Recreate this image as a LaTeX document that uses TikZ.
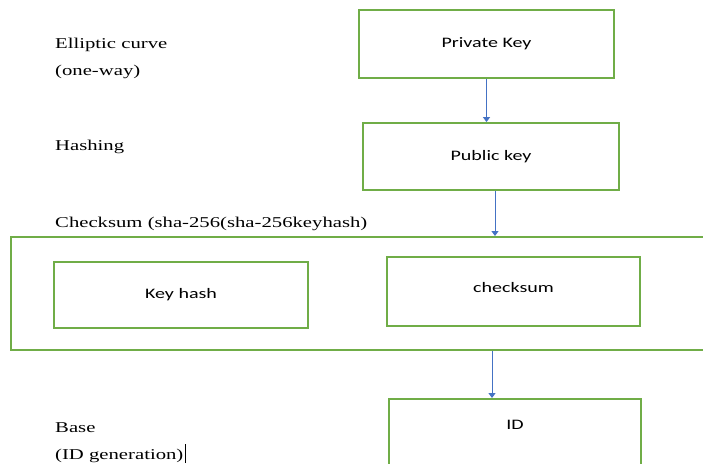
\documentclass[tikz,border=0pt]{standalone}
\usepackage{fontspec}
\setmainfont[FakeStretch=1.38]{Liberation Serif}
\newfontfamily\boxfont[FakeStretch=1.38]{Carlito}
\usetikzlibrary{arrows.meta, calc, positioning}
\definecolor{boxgreen}{RGB}{112,173,71}
\definecolor{arrowblue}{RGB}{68,114,196}
\tikzset{
	keybox/.style={
		rectangle,
		draw=boxgreen, line width=1.8pt,
		inner sep=0pt,
		font=\boxfont\fontsize{14.5}{17}\selectfont
	},
	boxtext/.style={inner sep=0pt, font=\boxfont\fontsize{14.5}{17}\selectfont},
	steplabel/.style={anchor=base west, inner sep=0pt, font=\fontsize{15}{18}\selectfont},
	flow/.style={-{Triangle[width=7pt,length=5pt]}, draw=arrowblue, line width=1pt}
}

\begin{document}
\begin{tikzpicture}[x=1pt,y=-1pt]
	\clip (0,0) rectangle (703,463);
	\fill[white] (0,0) rectangle (703,463);

	% left hand labels
	\node[steplabel] (ecurve)  at (55,48)  {Elliptic curve};
	\node[steplabel] (oneway)  at (55,75)  {(one-way)};
	\node[steplabel] (hashing) at (55,150) {Hashing};
	\node[steplabel] (cslabel) at (55,227) {Checksum (sha-256(sha-256keyhash)};
	\node[steplabel] (base)    at (55,432) {Base};
	\node[steplabel] (idgen)   at (55,459) {(ID generation)};
	\draw[line width=0.8pt] ($(idgen.base east)+(1.5,4)$) -- ++(0,-19);

	% key boxes
	\node[keybox, minimum width=255pt, minimum height=68pt] (priv) at (486.5,44) {Private Key};
	\node[keybox, minimum width=256pt, minimum height=67pt] (pub) at (491,156.5) {Public key};
	\node[keybox, minimum width=720pt, minimum height=113pt, anchor=north west] (sum) at (10,236) {};
	\node[keybox, minimum width=254pt, minimum height=66pt] (hash) at (181,295) {Key hash};
	\node[keybox, minimum width=253pt, minimum height=69pt,
		label={[boxtext, yshift=4pt]center:checksum}] (check) at (513.5,291.5) {};
	\node[keybox, minimum width=252pt, minimum height=80pt, anchor=north,
		label={[boxtext, below=22pt]north:ID}] (id) at (515,398) {};

	% arrows
	\coordinate (pubout) at ($(pub.south)+(4,0)$);
	\coordinate (sumout) at ($(sum.south west)+(482,0)$);
	\draw[flow] (priv.south) -- (priv.south |- pub.north);
	\draw[flow] (pubout) -- (pubout |- sum.north);
	\draw[flow] (sumout) -- (sumout |- id.north);
\end{tikzpicture}
\end{document}
